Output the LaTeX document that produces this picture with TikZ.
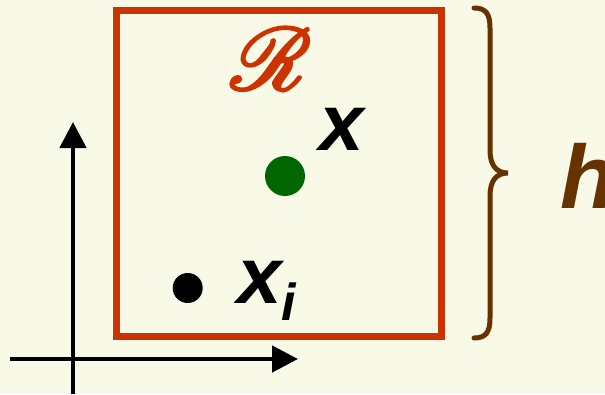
\documentclass[tikz,border=0pt]{standalone}
\usepackage{fontspec}
\setmainfont{Liberation Sans}
\usepackage{mathrsfs}
\usetikzlibrary{arrows.meta}
\definecolor{bgc}{HTML}{F8F9E6}
\definecolor{regred}{HTML}{CC3300}
\definecolor{dotgreen}{HTML}{006600}
\definecolor{bracebrown}{HTML}{663300}
\tikzset{
  axis/.style={line width=4.7pt,-{Triangle[length=26pt,width=26pt]}},
  lbl/.style={inner sep=0pt,font=\fontsize{80}{80}\bfseries\itshape\selectfont},
}
\begin{document}
\begin{tikzpicture}[x=1pt,y=-1pt]
\fill[bgc] (0,0) rectangle (605,394);
\useasboundingbox (0,0) rectangle (605,394);
% axes
\coordinate (o1) at (73,394);
\coordinate (yt) at (73,122);
\coordinate (o2) at (10,359);
\coordinate (xt) at (298,359);
\draw[axis] (o1) -- (yt);
\draw[axis] (o2) -- (xt);
% region
\draw[regred,line width=7pt] (116,10.5) rectangle (441.5,336);
\node[regred,inner sep=0pt,scale=8.8] (R) at (271,59) {\special{pdf:literal direct 2 Tr 0.3 w}$\mathscr{R}$\special{pdf:literal direct 0 Tr}};
% points
\fill[dotgreen] (285,176) circle (20);
\node[inner sep=0pt] (gx) at (285,176) {};
\fill[black] (187.7,288) circle (15);
\node[inner sep=0pt] (bx) at (187.7,288) {};
\node[lbl] (xl) at (342,129) {x};
\node[lbl] (xil) at (260,282) {x};
\node[inner sep=0pt,font=\fontsize{52}{52}\bfseries\itshape\selectfont] (il) at (289,301.5) {i};
% brace
\draw[bracebrown,line width=5pt,line cap=round]
  (474,8) .. controls (486,8) and (490,14) .. (490,28) -- (490,150)
  .. controls (490,165) and (496,173) .. (508,173)
  .. controls (496,173) and (490,181) .. (490,196) -- (490,318)
  .. controls (490,332) and (486,338) .. (474,338);
\node[lbl,bracebrown,font=\fontsize{90}{90}\bfseries\itshape\selectfont,anchor=west] (h) at (560,176) {h};
\end{tikzpicture}
\end{document}
